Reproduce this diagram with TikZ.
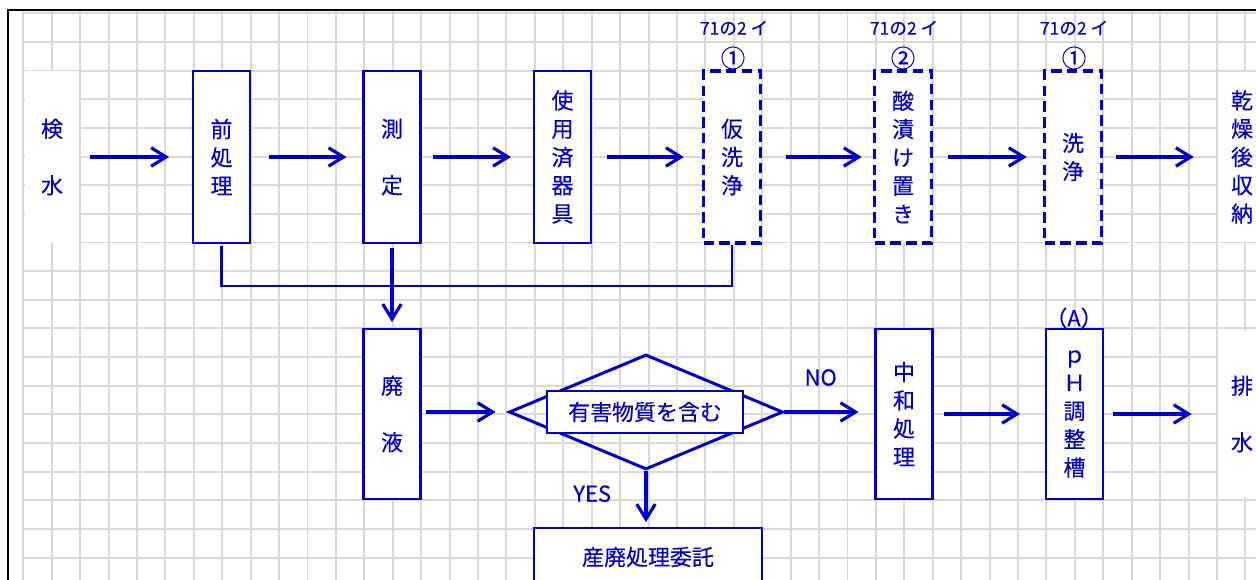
\documentclass[tikz,border=0pt]{standalone}
\usepackage{fontspec}
\setmainfont{Noto Sans CJK JP}[FakeBold=0.3]
\usepackage{tikz}
\usetikzlibrary{shapes, arrows.meta}
\definecolor{fcblue}{RGB}{0,0,204}
\definecolor{gridgray}{RGB}{217,217,217}
\tikzstyle{line} = [draw, fcblue, line width=1.8pt, -{Straight Barb[length=8.5pt,width=10.5pt]}]
\tikzstyle{conn} = [draw, fcblue, line width=1.5pt]
\tikzstyle{block}=[draw=fcblue, line width=1.2pt, rectangle, fill=white, text=fcblue, align=center, inner sep=0pt, minimum width=1.14cm, minimum height=3.44cm]
\tikzstyle{dblock}=[block, line width=2pt, dash pattern=on 6pt off 3pt]
\tikzstyle{plain}=[rectangle, fill=white, text=fcblue, align=center, inner sep=0pt]
\tikzstyle{lbl}=[text=fcblue, inner sep=0pt]
\tikzstyle{gridline}=[draw=gridgray, line width=1.1pt]

\begin{document}
\begin{tikzpicture}[x=0.02cm, y=-0.02cm, font=\fontsize{12.5}{16.1}\selectfont]
		\useasboundingbox (0,0) rectangle (1256,580);
		\foreach \i in {0,...,43} \draw[gridline] ({23.3+28.42*\i},11) -- ({23.3+28.42*\i},580);
		\foreach \j in {0,...,19} \draw[gridline] (23.3,{13.3+28.65*\j}) -- (1256,{13.3+28.65*\j});
		\draw[black, line width=1.3pt] (8,580) |- (1256,10);
		\node[plain, minimum width=1.1cm, minimum height=3.44cm] (K) at (52,157) {検\\[16.1pt]水};
		\node[block] (PR) at (221.5,157) {前\\処\\理};
		\node[block] (M) at (392,157) {測\\[16.1pt]定};
		\node[block] (U) at (562.5,157) {使\\用\\済\\器\\具};
		\node[dblock] (W1) at (732,157) {仮\\洗\\浄};
		\node[dblock] (A) at (903,157) {酸\\漬\\け\\置\\き};
		\node[dblock] (W2) at (1073,157) {洗\\浄};
		\node[plain, minimum width=0.96cm, minimum height=3.4cm] (S) at (1242,157) {乾\\燥\\後\\収\\納};
		\node[lbl, font=\fontsize{10}{12}\selectfont] at (734,28) {71の2 イ};
		\node[lbl, font=\fontsize{10}{12}\selectfont] at (904,28) {71の2 イ};
		\node[lbl, font=\fontsize{10}{12}\selectfont] at (1074,28) {71の2 イ};
		\node[lbl, font=\fontsize{14}{16}\selectfont] at (733,58) {①};
		\node[lbl, font=\fontsize{14}{16}\selectfont] at (903,58) {②};
		\node[lbl, font=\fontsize{14}{16}\selectfont] at (1074,58) {①};
		\draw[line, shorten <=5.7pt, shorten >=13pt] (K) -- (PR);
		\draw[line, shorten <=10.2pt, shorten >=9.1pt] (PR) -- (M);
		\draw[line, shorten <=6.3pt, shorten >=12.5pt] (M) -- (U);
		\draw[line, shorten <=8.5pt, shorten >=10.2pt] (U) -- (W1);
		\draw[line, shorten <=13.6pt, shorten >=6.3pt] (W1) -- (A);
		\draw[line, shorten <=8.5pt, shorten >=9.1pt] (A) -- (W2);
		\draw[line, shorten <=7.4pt, shorten >=13.6pt] (W2) -- (S);
		\node[block, minimum height=3.4cm] (L) at (392,414) {廃\\[16.1pt]液};
		\draw[conn, shorten <=1pt] (PR.south) -- ++(0,42) -| (W1.south);
		\draw[line, shorten <=2pt, shorten >=3.4pt] (M.south) -- (L.north);
		\node[diamond, draw=fcblue, line width=1.7pt, inner sep=0pt, minimum width=5.48cm, minimum height=2.3cm] (D) at (646,412) {};
		\node[block, minimum width=3.92cm, minimum height=0.84cm] (H) at (645,412) {有害物質を含む};
		\node[block, minimum height=3.4cm] (N) at (904,414) {中\\和\\処\\理};
		\node[block, minimum height=3.4cm] (PH) at (1074.5,414) {ｐ\\Ｈ\\調\\整\\槽};
		\node[lbl] at (1074,318) {（A）};
		\node[plain, minimum width=0.96cm, minimum height=3.34cm] (E) at (1242,414) {排\\[16.1pt]水};
		\node[block, minimum width=4.56cm, minimum height=1.16cm] (T) at (648,557) {産廃処理委託};
		\draw[line, shorten <=2.3pt, shorten >=6.8pt] (L.east |- D.west) -- (D.west);
		\draw[line, shorten >=9.1pt] (D.east) -- node[lbl, above, yshift=14pt, xshift=-5pt]{NO} (D.east -| N.west);
		\draw[line, shorten <=5.7pt, shorten >=14.2pt] (N) -- (PH);
		\draw[line, shorten <=5.1pt, shorten >=14.8pt] (PH) -- (E);
		\draw[line, shorten >=2.8pt] (D.south) -- node[lbl, left, xshift=-19pt, yshift=3pt]{YES} (D.south |- T.north);
	\end{tikzpicture}
\end{document}
